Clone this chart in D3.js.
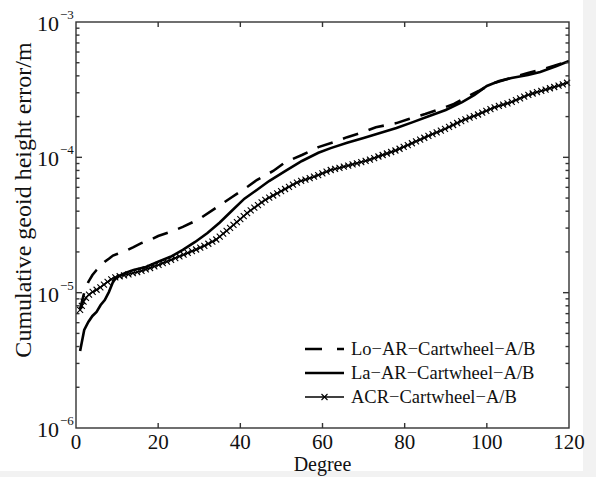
<!DOCTYPE html>
<html lang="en">
<head>
<meta charset="UTF-8">
<title>Cumulative geoid height error</title>
<script src="https://d3js.org/d3.v7.min.js"></script>
<style>
  body { margin: 0; background: #f2f2f2; }
  svg { display: block; font-family: "Liberation Serif", "Times New Roman", serif; }
</style>
</head>
<body>
<div id="chart"></div>
<script>
// Lo-AR-Cartwheel-A/B (dashed)
var loDeg = [1, 2, 3, 4, 5, 6, 7, 8, 9, 10, 12, 14, 16, 18, 20, 23, 26, 30, 34, 38, 42, 44, 48, 51, 55, 59, 63, 66, 70, 73, 78, 81, 85, 88, 92, 95, 98, 101, 105, 110, 114, 117, 120];
var loVal = [7.6e-6, 1.0e-5, 1.2e-5, 1.35e-5, 1.47e-5, 1.57e-5, 1.69e-5, 1.78e-5, 1.88e-5, 1.93e-5, 2.03e-5, 2.17e-5, 2.33e-5, 2.45e-5, 2.62e-5, 2.81e-5, 3.06e-5, 3.5e-5, 4.22e-5, 5.09e-5, 6.14e-5, 6.8e-5, 7.93e-5, 9.24e-5, 1.04e-4, 1.19e-4, 1.3e-4, 1.41e-4, 1.54e-4, 1.67e-4, 1.79e-4, 1.92e-4, 2.09e-4, 2.24e-4, 2.48e-4, 2.79e-4, 3.09e-4, 3.48e-4, 3.79e-4, 4.2e-4, 4.5e-4, 4.81e-4, 5.15e-4];

// La-AR-Cartwheel-A/B (solid)
var laDeg = [1, 2, 3, 4, 5, 6, 7, 8, 9, 10, 12, 14, 17, 20, 23, 26, 29, 32, 35, 38, 41, 44, 47, 51, 55, 59, 62, 66, 70, 74, 78, 82, 86, 90, 94, 97, 100, 103, 106, 110, 113, 117, 120];
var laVal = [3.7e-6, 5.3e-6, 6.07e-6, 6.73e-6, 7.2e-6, 8.1e-6, 8.83e-6, 1.01e-5, 1.2e-5, 1.31e-5, 1.4e-5, 1.47e-5, 1.55e-5, 1.69e-5, 1.84e-5, 2.07e-5, 2.37e-5, 2.76e-5, 3.3e-5, 4.05e-5, 4.95e-5, 5.74e-5, 6.68e-5, 7.93e-5, 9.4e-5, 1.08e-4, 1.17e-4, 1.28e-4, 1.39e-4, 1.51e-4, 1.65e-4, 1.82e-4, 2.02e-4, 2.24e-4, 2.56e-4, 2.89e-4, 3.37e-4, 3.66e-4, 3.86e-4, 4.06e-4, 4.27e-4, 4.73e-4, 5.15e-4];

// ACR-Cartwheel-A/B (solid with x markers)
var acrDeg = [1, 2, 3, 4, 5, 6, 7, 8, 9, 10, 12, 15, 18, 20, 23, 26, 29, 31, 34, 38, 42, 46, 50, 54, 58, 62, 67, 71, 75, 78, 82, 86, 90, 94, 98, 102, 106, 110, 114, 118, 120];
var acrVal = [7.45e-6, 8.83e-6, 9.6e-6, 1.01e-5, 1.05e-5, 1.1e-5, 1.16e-5, 1.22e-5, 1.28e-5, 1.31e-5, 1.35e-5, 1.42e-5, 1.52e-5, 1.6e-5, 1.74e-5, 1.9e-5, 2.07e-5, 2.2e-5, 2.45e-5, 3.1e-5, 3.95e-5, 4.84e-5, 5.64e-5, 6.57e-5, 7.2e-5, 8.06e-5, 8.8e-5, 9.5e-5, 1.05e-4, 1.13e-4, 1.28e-4, 1.45e-4, 1.63e-4, 1.87e-4, 2.08e-4, 2.35e-4, 2.56e-4, 2.89e-4, 3.15e-4, 3.42e-4, 3.6e-4];

var seriesNames = ["Lo\u2212AR\u2212Cartwheel\u2212A/B", "La\u2212AR\u2212Cartwheel\u2212A/B", "ACR\u2212Cartwheel\u2212A/B"];
var xTicks = [0, 20, 40, 60, 80, 100, 120];
var yExps = [-6, -5, -4, -3];

var W = 596, H = 477;
var mLeft = 76, mRight = 569, mTop = 22, mBottom = 428;

var svg = d3.select("#chart").append("svg")
    .attr("width", W)
    .attr("height", H);

svg.append("rect")
    .attr("width", 583)
    .attr("height", 471)
    .attr("fill", "#fff");

var x = d3.scaleLinear().domain([0, 120]).range([mLeft, mRight]);
var y = d3.scaleLog().domain([1e-6, 1e-3]).range([mBottom, mTop]);

var line = d3.line()
    .x(d => x(d[0]))
    .y(d => y(d[1]));

function pairs(a, b) {
    return a.map((v, i) => [v, b[i]]);
}

var plot = svg.append("g");

plot.append("path")
    .attr("d", line(pairs(loDeg, loVal)))
    .attr("fill", "none")
    .attr("stroke", "#000")
    .attr("stroke-width", 2.6)
    .attr("stroke-dasharray", "16,11");

plot.append("path")
    .attr("d", line(pairs(laDeg, laVal)))
    .attr("fill", "none")
    .attr("stroke", "#000")
    .attr("stroke-width", 2.6);

var acrPath = plot.append("path")
    .attr("d", line(pairs(acrDeg, acrVal)))
    .attr("fill", "none")
    .attr("stroke", "#000")
    .attr("stroke-width", 1.6);

// x markers along the ACR curve, roughly one per degree
var xMark = "M-3,-3L3,3M-3,3L3,-3";
var node = acrPath.node();
var len = node.getTotalLength();
var step = x(1) - x(0) + 0.4;
for (var s = 0; s <= len; s += step) {
    var p = node.getPointAtLength(s);
    plot.append("path")
        .attr("d", xMark)
        .attr("transform", `translate(${p.x},${p.y})`)
        .attr("fill", "none")
        .attr("stroke", "#000")
        .attr("stroke-width", 1.1);
}

// frame
var ax = svg.append("g")
    .attr("stroke", "#333")
    .attr("stroke-width", 1.4)
    .attr("fill", "none");

ax.append("rect")
    .attr("x", mLeft)
    .attr("y", mTop)
    .attr("width", mRight - mLeft)
    .attr("height", mBottom - mTop);

// x ticks, bottom and top, pointing in
xTicks.forEach(function(t) {
    if (t === 0 || t === 120) return;
    ax.append("line").attr("x1", x(t)).attr("x2", x(t)).attr("y1", mBottom).attr("y2", mBottom - 5);
    ax.append("line").attr("x1", x(t)).attr("x2", x(t)).attr("y1", mTop).attr("y2", mTop + 5);
});

// y ticks, major and minor, left and right
for (var e = -6; e < -3; e++) {
    for (var m = 1; m <= 9; m++) {
        var yy = y(m * Math.pow(10, e));
        var l = m === 1 ? 6 : 3.5;
        if (m === 1 && e === -6) continue;
        ax.append("line").attr("x1", mLeft).attr("x2", mLeft + l).attr("y1", yy).attr("y2", yy);
        ax.append("line").attr("x1", mRight).attr("x2", mRight - l).attr("y1", yy).attr("y2", yy);
    }
}

// tick labels
var labels = svg.append("g").attr("fill", "#111");

labels.selectAll(".xt")
    .data(xTicks)
    .enter().append("text")
    .attr("x", d => x(d))
    .attr("y", 448.5)
    .attr("text-anchor", "middle")
    .attr("font-size", 21)
    .text(d => d);

yExps.forEach(function(ex) {
    var yy = y(Math.pow(10, ex));
    labels.append("text")
        .attr("x", 59)
        .attr("y", yy + 9)
        .attr("text-anchor", "end")
        .attr("font-size", 22)
        .text("10");
    labels.append("text")
        .attr("x", 60)
        .attr("y", yy - 3)
        .attr("font-size", 13)
        .text("\u2212" + Math.abs(ex));
});

labels.append("text")
    .attr("x", (mLeft + mRight) / 2)
    .attr("y", 471)
    .attr("text-anchor", "middle")
    .attr("font-size", 20)
    .text("Degree");

labels.append("text")
    .attr("transform", "translate(31,200) rotate(-90)")
    .attr("text-anchor", "middle")
    .attr("font-size", 24)
    .text("Cumulative geoid height error/m");

// legend
var legY = [349, 373, 397];
var leg = svg.append("g");
legY.forEach(function(ly, i) {
    var g = leg.append("g");
    var seg = g.append("line")
        .attr("x1", 305).attr("x2", 344)
        .attr("y1", ly).attr("y2", ly)
        .attr("stroke", "#000");
    if (i === 0) seg.attr("stroke-width", 2.6).attr("stroke-dasharray", "17,15");
    if (i === 1) seg.attr("stroke-width", 2.6);
    if (i === 2) {
        seg.attr("stroke-width", 1.6);
        g.append("path")
            .attr("d", xMark)
            .attr("transform", `translate(324.5,${ly})`)
            .attr("fill", "none")
            .attr("stroke", "#000")
            .attr("stroke-width", 1.1);
    }
    g.append("text")
        .attr("x", 351)
        .attr("y", ly + 6)
        .attr("font-size", 18.5)
        .attr("fill", "#111")
        .text(seriesNames[i]);
});
</script>
</body>
</html>
